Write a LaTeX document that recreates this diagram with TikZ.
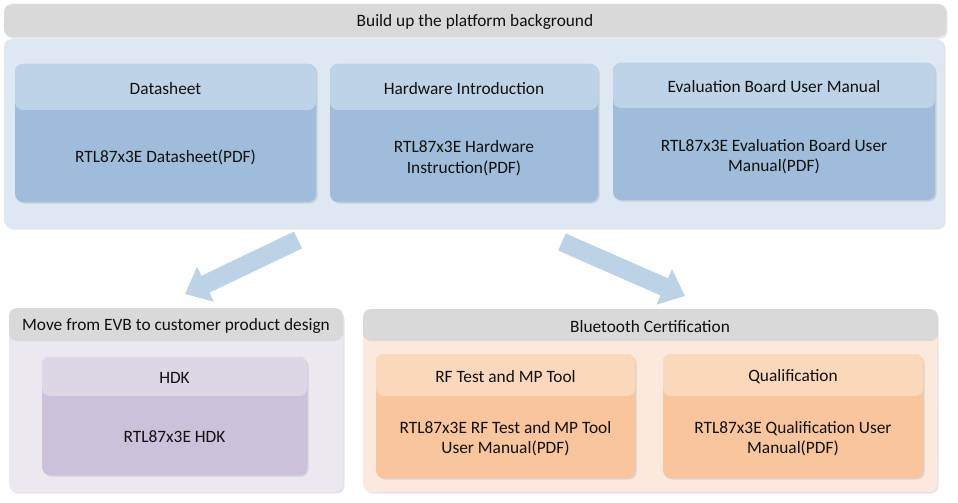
\documentclass[tikz,border=0pt]{standalone}
\usepackage{fontspec}
\setmainfont{Carlito}
\usetikzlibrary{arrows.meta,shadows,fit}
\definecolor{hdrgray}{HTML}{D9D9D9}
\definecolor{bluecont}{HTML}{DEE8F2}
\definecolor{bluehdr}{HTML}{BDD3E7}
\definecolor{bluebody}{HTML}{9FBDDA}
\definecolor{arrowblue}{HTML}{BCD3E7}
\definecolor{lavcont}{HTML}{EBE8F0}
\definecolor{lavhdr}{HTML}{DCD6E5}
\definecolor{lavbody}{HTML}{CBC1DA}
\definecolor{peachcont}{HTML}{FBE9DD}
\definecolor{peachhdr}{HTML}{FAD8BC}
\definecolor{peachbody}{HTML}{F8C59C}
\definecolor{txt}{HTML}{111111}
\begin{document}
\begin{tikzpicture}[x=0.75pt,y=-0.75pt,
  font=\fontsize{13}{15.5}\selectfont, text=txt,
  panel/.style={rounded corners=6pt, inner sep=0pt, draw=none,
    drop shadow={shadow xshift=1.2pt, shadow yshift=-1.2pt, opacity=0.10, fill=black}},
  flat/.style={rounded corners=6pt, inner sep=0pt, draw=none},
  lbl/.style={align=center, inner sep=0pt, yshift=-1pt},
  bigarrow/.style={draw=arrowblue, line width=14pt,
    -{Triangle[width=28pt,length=17pt]}}]
\useasboundingbox (0,0) rectangle (958,503);

% ---------- top group ----------
\node[panel, fill=bluecont, fit={(4,39) (944,228)}] (topc) {};
\node[panel, fill=hdrgray, fit={(4,4) (946,37)}] (toph) {};
\node[lbl] (tophl) at (475,20.5) {Build up the platform background};

\node[panel, fill=bluebody, fit={(15,64) (316,202)}] (c1) {};
\node[flat, fill=bluehdr, fit={(15,64) (316,110)}] (c1h) {};
\node[lbl] (c1hl) at (165.5,87) {Datasheet};
\node[lbl] (c1b) at (165.5,156.5) {RTL87x3E Datasheet(PDF)};

\node[panel, fill=bluebody, fit={(330,64) (598,202)}] (c2) {};
\node[flat, fill=bluehdr, fit={(330,64) (598,110)}] (c2h) {};
\node[lbl] (c2hl) at (464,87) {Hardware Introduction};
\node[lbl] (c2b) at (464,157) {RTL87x3E Hardware\\Instruction(PDF)};

\node[panel, fill=bluebody, fit={(613,63) (935,200)}] (c3) {};
\node[flat, fill=bluehdr, fit={(613,63) (935,108)}] (c3h) {};
\node[lbl] (c3hl) at (774,85.5) {Evaluation Board User Manual};
\node[lbl] (c3b) at (774,155.5) {RTL87x3E Evaluation Board User\\Manual(PDF)};

% ---------- arrows ----------
\coordinate (a1s) at (298,240);
\coordinate (a1e) at (185,294);
\coordinate (a2s) at (562,242);
\coordinate (a2e) at (685,296);
\draw[bigarrow] (a1s) -- (a1e);
\draw[bigarrow] (a2s) -- (a2e);

% ---------- bottom left ----------
\node[panel, fill=lavcont, fit={(9,310) (343,492)}] (blc) {};
\node[flat, fill=hdrgray, fit={(9,308) (343,341)}] (blh) {};
\node[lbl] (blhl) at (176,325) {Move from EVB to customer product design};

\node[panel, fill=lavbody, fit={(42,357) (307,475)}] (c4) {};
\node[flat, fill=lavhdr, fit={(42,357) (307,396)}] (c4h) {};
\node[lbl] (c4hl) at (174.5,377) {HDK};
\node[lbl] (c4b) at (174.5,435.5) {RTL87x3E HDK};

% ---------- bottom right ----------
\node[panel, fill=peachcont, fit={(363,311) (937,492)}] (brc) {};
\node[flat, fill=hdrgray, fit={(363,309) (938,341)}] (brh) {};
\node[lbl] (brhl) at (650,325) {Bluetooth Certification};

\node[panel, fill=peachbody, fit={(376,354) (635,478)}] (c5) {};
\node[flat, fill=peachhdr, fit={(376,354) (635,396)}] (c5h) {};
\node[lbl] (c5hl) at (505.5,375) {RF Test and MP Tool};
\node[lbl] (c5b) at (505.5,437.5) {RTL87x3E RF Test and MP Tool\\User Manual(PDF)};

\node[panel, fill=peachbody, fit={(663,354) (923,478)}] (c6) {};
\node[flat, fill=peachhdr, fit={(663,354) (923,396)}] (c6h) {};
\node[lbl] (c6hl) at (793,375) {Qualification};
\node[lbl] (c6b) at (793,437.5) {RTL87x3E Qualification User\\Manual(PDF)};
\end{tikzpicture}
\end{document}
